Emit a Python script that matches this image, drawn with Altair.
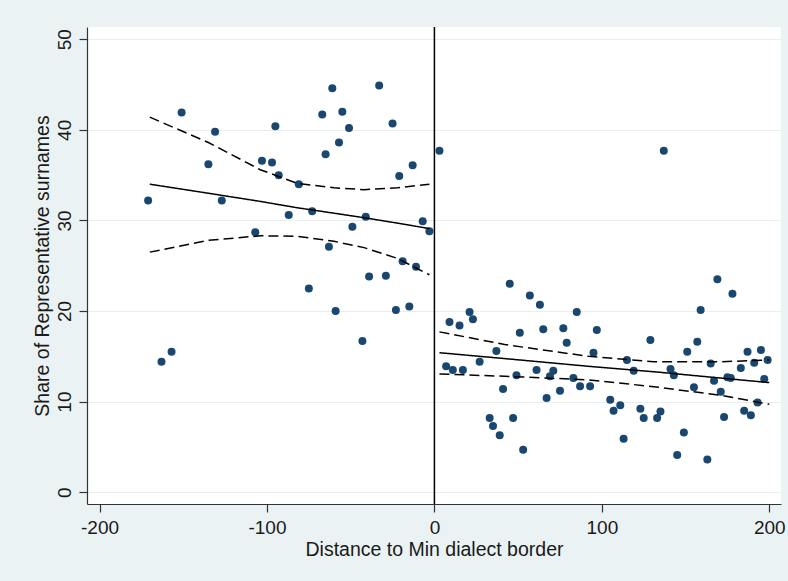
import altair as alt
import pandas as pd

# ---- scatter data ----
left_x = [-171, -151, -131, -135, -127, -103, -97, -95, -93, -81, -107, -87, -73, -67, -61, -55,
          -65, -57, -51, -49, -63, -41, -33, -25, -21, -13, -7, -3, -19, -11, -39, -29, -75, -59,
          -23, -15, -43, -163, -157]
left_y = [32.2, 41.9, 39.8, 36.2, 32.2, 36.6, 36.4, 40.4, 35.0, 34.0, 28.7, 30.6, 31.0, 41.7, 44.6, 42.0,
          37.3, 38.6, 40.2, 29.3, 27.1, 30.4, 44.9, 40.7, 34.9, 36.1, 29.9, 28.8, 25.5, 24.9, 23.8, 23.9, 22.5, 20.0,
          20.1, 20.5, 16.7, 14.4, 15.5]

right_x = [3, 137, 45, 57, 169, 178, 63, 21, 23, 9, 15, 85, 159, 51, 65, 77, 97, 79, 129, 157,
           37, 95, 151, 187, 195, 27, 115, 165, 191, 199, 7, 11, 17, 61, 71, 69, 119, 141, 143, 183,
           49, 83, 87, 93, 175, 177, 167, 197, 155, 171, 41, 75, 67, 105, 107, 111, 123, 125, 133, 135,
           185, 189, 193, 173, 33, 35, 39, 47, 53, 113, 149, 145, 163]
right_y = [37.7, 37.7, 23.0, 21.7, 23.5, 21.9, 20.7, 19.9, 19.1, 18.8, 18.4, 19.9, 20.1, 17.6, 18.0, 18.1, 17.9, 16.5, 16.8, 16.6,
           15.6, 15.4, 15.5, 15.5, 15.7, 14.4, 14.6, 14.2, 14.3, 14.6, 13.9, 13.5, 13.5, 13.5, 13.4, 12.8, 13.4, 13.6, 12.9, 13.7,
           12.9, 12.6, 11.7, 11.7, 12.7, 12.6, 12.3, 12.5, 11.6, 11.1, 11.4, 11.2, 10.4, 10.2, 9.0, 9.6, 9.2, 8.2, 8.2, 8.9,
           9.0, 8.5, 9.9, 8.3, 8.2, 7.3, 6.3, 8.2, 4.7, 5.9, 6.6, 4.1, 3.6]

# ---- fitted line and 95% CI ----
left_line_x = [-170, -135, -104, -82, -60, -42, -22, -3]
left_fit = [34.0, 33.0, 32.1, 31.4, 30.8, 30.3, 29.7, 29.1]
left_hi = [41.4, 38.6, 35.6, 34.1, 33.6, 33.4, 33.6, 34.0]
left_lo = [26.5, 27.8, 28.3, 28.25, 27.7, 27.0, 25.8, 24.0]

right_line_x = [3, 42, 92, 131, 171, 200]
right_fit = [15.4, 14.75, 13.9, 13.3, 12.6, 12.1]
right_hi = [17.7, 16.3, 15.0, 14.4, 14.4, 14.6]
right_lo = [13.05, 12.8, 12.4, 11.65, 10.7, 9.7]

x_ticks = [-200, -100, 0, 100, 200]
y_ticks = [0, 10, 20, 30, 40, 50]

pts = pd.DataFrame({"x": left_x + right_x, "y": left_y + right_y})

rows = []
for side, xs, series in [("left", left_line_x, {"fit": left_fit, "hi": left_hi, "lo": left_lo}),
                         ("right", right_line_x, {"fit": right_fit, "hi": right_hi, "lo": right_lo})]:
    for kind, ys in series.items():
        for xv, yv in zip(xs, ys):
            rows.append({"x": xv, "y": yv, "grp": side + "-" + kind,
                         "style": "fit" if kind == "fit" else "ci"})
lines = pd.DataFrame(rows)

FONT = "Liberation Sans"
xscale = alt.Scale(domain=[-207.5, 207.0], nice=False, zero=False)
yscale = alt.Scale(domain=[-1.3, 51.35], nice=False, zero=False)

xaxis = alt.Axis(values=x_ticks, title="Distance to Min dialect border",
                 grid=False, tickSize=8, labelPadding=6, titlePadding=3,
                 labelExpr="'' + datum.value")
yaxis = alt.Axis(values=y_ticks, title="Share of Representative surnames",
                 grid=True, gridColor="#E6EEF0", tickSize=8, labelAngle=270,
                 labelAlign="center", labelBaseline="bottom", labelPadding=5, titlePadding=3,
                 labelExpr="'' + datum.value")

points = alt.Chart(pts).mark_circle(size=64, color="#1A476F", opacity=1).encode(
    x=alt.X("x:Q", scale=xscale, axis=xaxis),
    y=alt.Y("y:Q", scale=yscale, axis=yaxis),
)

line_layer = alt.Chart(lines).mark_line(color="black", strokeWidth=1.5).encode(
    x=alt.X("x:Q", scale=xscale),
    y=alt.Y("y:Q", scale=yscale),
    detail="grp:N",
    strokeDash=alt.StrokeDash("style:N", scale=alt.Scale(domain=["fit", "ci"], range=[[1, 0], [10, 5]]),
                              legend=None),
)

vline = alt.Chart(pd.DataFrame({"x": [0]})).mark_rule(color="black", strokeWidth=1.5).encode(
    x=alt.X("x:Q", scale=xscale)
)

chart = alt.layer(points, line_layer, vline).properties(
    width=694, height=477,
    autosize="none",
    padding={"left": 87, "top": 27, "right": 7, "bottom": 77},
    background="#EAF2F3",
).configure_view(
    fill="white", stroke=None
).configure_axis(
    labelFont=FONT, titleFont=FONT, labelFontSize=19, titleFontSize=19.5,
    labelColor="#1a1a1a", titleColor="#1a1a1a", titleFontWeight="normal",
    domainColor="#333333", tickColor="#333333", domainWidth=1.2, tickWidth=1.2,
)

chart.save("out.html", embed_options={"renderer": "svg", "actions": False})
